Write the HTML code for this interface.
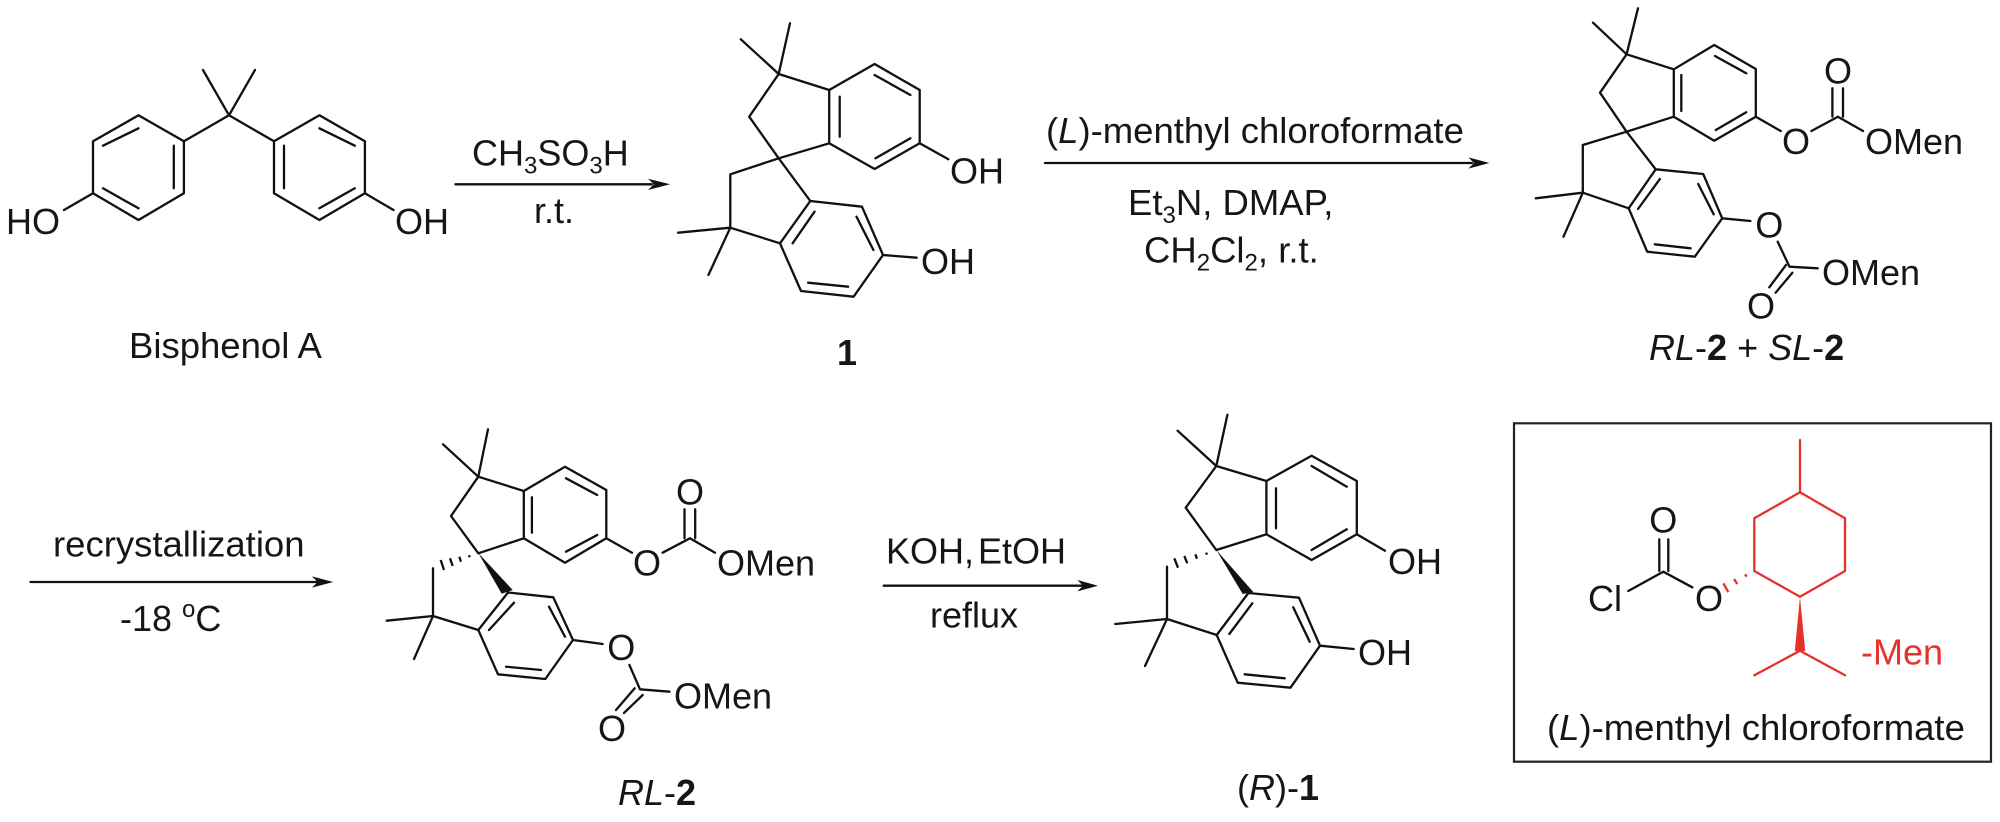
<!DOCTYPE html>
<html>
<head>
<meta charset="utf-8">
<style>
html,body{margin:0;padding:0;background:#fff;width:2000px;height:822px;overflow:hidden}
svg{display:block}
text{font-family:"Liberation Sans",Arial,sans-serif;font-size:36px;fill:#161616}
text.l{font-size:36.5px}
.b{stroke:#111;stroke-width:2.3;fill:none;stroke-linejoin:round;stroke-linecap:round}
.h{stroke:#111;stroke-width:2.3;fill:none;stroke-linecap:butt}
.r{stroke:#e5322d;stroke-width:2.3;fill:none;stroke-linejoin:round;stroke-linecap:round}
.rh{stroke:#e5322d;stroke-width:2.3;fill:none;stroke-linecap:butt}
.sub{font-size:24px}
.bd{font-weight:bold}
.i{font-style:italic}
</style>
</head>
<body>
<svg width="2000" height="822" viewBox="0 0 2000 822" xmlns="http://www.w3.org/2000/svg">
<rect width="2000" height="822" fill="#fff"/>

<!-- Bisphenol A -->
<path class="b" d="M203 70L229 115.3L255 70M183.9 141.3L229 115.3L274 141.3
M138.5 115.3L183.9 141.3L183.9 193.3L138.5 220L93 193.3L93 141.3Z
M103 145.7L138.5 128.3M173.8 145.7L173.8 188.3M103 188.3L138.5 208.3M93 193.3L64 210
M319.4 115.3L274 141.3L274 193.3L319.4 220L364.9 193.3L364.9 141.3Z
M319.4 128.3L354.8 145.7M284 145.7L284 188.3M319.4 208.3L354.8 188.3M364.9 193.3L393.5 210"/>
<text x="6" y="234">HO</text>
<text x="395" y="234">OH</text>
<text class="l" x="129" y="358">Bisphenol A</text>

<!-- Arrow 1 -->
<path class="b" d="M455.4 184.3L652 184.3"/>
<polygon points="670,184.3 648,178.7 654,184.3 648,190" fill="#111"/>
<text x="472" y="165.7">CH<tspan class="sub" dy="8">3</tspan><tspan dy="-8">SO</tspan><tspan class="sub" dy="8">3</tspan><tspan dy="-8">H</tspan></text>
<text x="534" y="223">r.t.</text>

<!-- Compound 1 -->
<path class="b" d="M740.8 39.3L778.7 74L790 23.3M829.2 90L778.7 74L749.2 116.7L778.7 158.3L829.2 143.3
M829.2 90L874.6 64L919.7 90L919.7 143.3L874.6 169L829.2 143.3Z
M874.6 75L910.4 95M839.7 96.7L839.7 136.7M875.5 158.3L910.4 138.3M919.7 143.3L948.3 159.3
M778.7 158.3L730.3 174.3L730.3 227.7L780 243.3M778.7 158.3L810.3 201
M678.1 232.7L730.3 227.7L708.4 275
M810.3 201L862 206.7L883 255L853.6 296.7L801 291L780 243.3Z
M814.5 211.7L792.6 243.3M856.5 216.7L873.4 250M808.1 282.7L848.1 286.7M883 255L916.7 257.7"/>
<text x="950" y="183.3">OH</text>
<text x="921" y="274">OH</text>
<text class="bd" x="837" y="365">1</text>

<!-- Arrow 2 -->
<path class="b" d="M1045 163L1472 163"/>
<polygon points="1489.4,163 1468.4,157.4 1474,163 1468.4,168.6" fill="#111"/>
<text class="l" x="1046" y="143">(<tspan class="i">L</tspan>)-menthyl chloroformate</text>
<text class="l" x="1128" y="215">Et<tspan class="sub" dy="8">3</tspan><tspan dy="-8">N, DMAP,</tspan></text>
<text class="l" x="1144" y="262.7">CH<tspan class="sub" dy="8">2</tspan><tspan dy="-8">Cl</tspan><tspan class="sub" dy="8">2</tspan><tspan dy="-8">, r.t.</tspan></text>

<!-- RL-2 + SL-2 -->
<path class="b" d="M1593 22.7L1626.6 54.3L1638 8.3M1673.8 69.3L1626.6 54.3L1600 92.7L1626.6 131.7L1673.8 116.7
M1673.8 69.3L1714.2 45L1755.8 69L1755.8 116.7L1714.2 140.7L1673.8 116.7Z
M1715 56L1746.2 73.3M1681.3 75L1681.3 111M1715.8 130L1746.2 112.3M1755.8 116.7L1780.7 131
M1811.4 131L1837.9 116.7L1863 131M1832.4 116.7L1832.4 88.3M1843 116.7L1843 88.3
M1626.6 131.7L1582.8 145L1582.8 192.7L1628.7 208.3M1626.6 131.7L1655.7 169.3
M1535.7 198.3L1582.8 192.7L1563.5 236.7
M1655.7 169.3L1703.2 174L1722.2 218.3L1694.8 256.7L1647.2 251.7L1628.7 208.3Z
M1659.9 179L1638 209M1698.2 184L1713.7 214.3M1654.8 244.3L1690.6 248.3M1722.2 218.3L1750.4 221
M1777.7 241.7L1789.5 266.7L1817.7 268.3M1786 265L1769.3 287.3M1792.4 272.7L1775.6 292.7"/>
<text x="1796" y="154" text-anchor="middle">O</text>
<text x="1838" y="83.3" text-anchor="middle">O</text>
<text x="1865" y="154">OMen</text>
<text x="1769.3" y="237.3" text-anchor="middle">O</text>
<text x="1761" y="318.3" text-anchor="middle">O</text>
<text x="1822" y="285">OMen</text>
<text x="1649" y="360"><tspan class="i">RL</tspan>-<tspan class="bd">2</tspan> + <tspan class="i">SL</tspan>-<tspan class="bd">2</tspan></text>

<!-- Arrow 3 -->
<path class="b" d="M30.5 582L317 582"/>
<polygon points="333.2,582 312,576.4 317.6,582 312,587.6" fill="#111"/>
<text class="l" x="53" y="556.7">recrystallization</text>
<text x="120" y="631">-18 <tspan class="sub" dy="-14">o</tspan><tspan dy="14">C</tspan></text>

<!-- RL-2 -->
<path class="b" d="M443 444.3L478.3 476.7L488 429.3M523.8 491L478.3 476.7L451 516L478.3 553.3L523.8 538.3
M523.8 491L565 466.7L606.3 490L606.3 538.3L565 562.7L523.8 538.3Z
M566 478.3L597.2 495M531.9 497.3L531.9 532.7M566 551.7L597.2 535M606.3 538.3L632 552.7
M662.6 552.7L689.9 538.3L715 552.7M684.5 538.3L684.5 509.3M695.2 538.3L695.2 509.3
M433 568.3L433 616L478.3 630M386.7 620.7L433 616L414 659
M508 592.5L553.3 597.3L573 640L545.3 679L498 674.3L478.3 630Z
M514 602.7L489 630M549 606.7L565 636.7M506 666.7L541 670M573 640L602.6 644
M629.4 665L640 689.3L669.5 691.7M634.7 688.3L616 710M642.7 695L624 713"/>
<polygon points="478.3,553 501.7,593.8 512.7,590" fill="#111"/>
<path class="h" d="M440.7 560L444 570M450 558.3L452.7 566M459.3 556.7L461 561.7M469 555.3L469.7 557.3"/>
<text x="647" y="575.7" text-anchor="middle">O</text>
<text x="690" y="504.3" text-anchor="middle">O</text>
<text x="717" y="575.7">OMen</text>
<text x="621.3" y="660" text-anchor="middle">O</text>
<text x="612" y="741" text-anchor="middle">O</text>
<text x="674" y="708.3">OMen</text>
<text x="618" y="805"><tspan class="i">RL</tspan>-<tspan class="bd">2</tspan></text>

<!-- Arrow 4 -->
<path class="b" d="M883.7 585.7L1082 585.7"/>
<polygon points="1098,585.7 1077.4,580 1083,585.7 1077.4,591.4" fill="#111"/>
<text x="886" y="563.3" word-spacing="-6">KOH, EtOH</text>
<text x="930" y="627.3">reflux</text>

<!-- (R)-1 -->
<path class="b" d="M1177.6 430.7L1216.3 466L1227.4 414.7M1266.4 481L1216.3 466L1185.7 507.7L1216.3 550L1266.4 534.3
M1266.4 481L1311.6 455.7L1356.8 481L1356.8 534.3L1311.6 560L1266.4 534.3Z
M1311.6 466L1346.8 486.7M1276 488.3L1276 528.3M1311.6 550L1346.8 529.3M1356.8 534.3L1385 550.7
M1167 566.7L1167 619L1216.7 635M1115.3 624L1167 619L1145 666
M1248.4 593L1299 597.7L1320 645.7L1290.5 687.7L1237.7 682.7L1216.7 635Z
M1252.3 603.3L1229.3 634M1293.2 607.3L1309.7 641.7M1244.6 674.3L1284.8 678.3M1320 645.7L1353.7 649"/>
<polygon points="1216.3,550 1242.7,594 1253.3,592" fill="#111"/>
<path class="h" d="M1174.3 558.3L1178 567.7M1184.3 556L1187.3 563.3M1195.3 554.3L1197 558.7M1206 552.7L1207 554.6"/>
<text x="1388" y="574">OH</text>
<text x="1358" y="665">OH</text>
<text x="1237" y="800">(<tspan class="i">R</tspan>)-<tspan class="bd">1</tspan></text>

<!-- Box -->
<rect x="1514" y="423.3" width="477" height="338.4" fill="none" stroke="#222" stroke-width="2.2"/>
<path class="b" d="M1628.3 591L1663.3 571.7L1692.3 587.3M1659.3 571L1659.3 539.3M1668.3 571L1668.3 539.3"/>
<text x="1663.3" y="532.3" text-anchor="middle">O</text>
<text x="1588" y="611">Cl</text>
<text x="1709" y="611" text-anchor="middle">O</text>
<path class="r" d="M1800 440L1800 492.3L1845 518.3L1845 571L1800 596.7L1754.3 571L1754.3 518.3L1800 492.3
M1754.3 675.3L1800 650.7L1845 675.3"/>
<polygon points="1800,596.7 1794.8,651 1805.2,651" fill="#e5322d"/>
<path class="rh" d="M1723.3 583.3L1728.3 592M1734 579L1737.3 584M1745 574.3L1746.7 576.7"/>
<text x="1861" y="664.3" style="fill:#e5322d">-Men</text>
<text class="l" x="1547" y="740">(<tspan class="i">L</tspan>)-menthyl chloroformate</text>
</svg>
</body>
</html>
